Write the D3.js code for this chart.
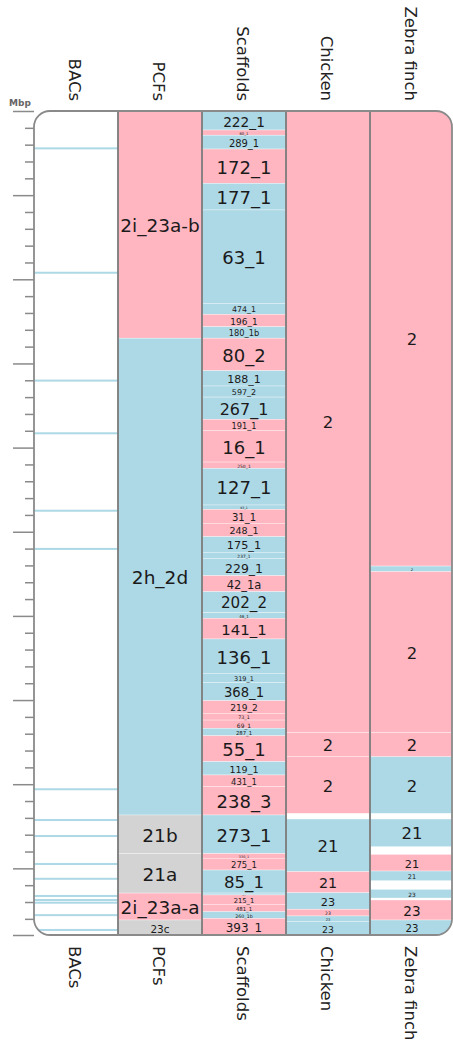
<!DOCTYPE html>
<html>
<head>
<meta charset="utf-8">
<script src="https://cdn.jsdelivr.net/npm/d3@7/dist/d3.min.js"></script>
<style>
  body { margin: 0; background: #fff; }
  svg { display: block; font-family: "DejaVu Sans", sans-serif; }
</style>
</head>
<body>
<svg id="chart" width="453" height="1051"></svg>
<script>

// ******************* Data (Mbp) ********************************* //
var columns = ["BACs", "PCFs", "Scaffolds", "Chicken", "Zebra finch"];
var chromLength = 48.96;

// BAC positions along the chromosome
var bacs = [2.22, 9.61, 16.02, 19.15, 23.75, 26.02, 40.30, 42.13, 43.08,
            44.74, 45.62, 46.64, 46.88, 47.04, 47.78, 48.66];

// [name, start, end, colour]  p = pink, b = blue, g = grey
var pcfs = [
  ["2i_23a-b", 0, 13.5, "p"],
  ["2h_2d", 13.5, 41.83, "b"],
  ["21b", 41.83, 44.12, "g"],
  ["21a", 44.12, 46.47, "g"],
  ["2i_23a-a", 46.47, 48.07, "p"],
  ["23c", 48.07, 48.96, "g"]
];

var scaffolds = [
  ["222_1", 0, 1.13, "b"],
  ["60_1", 1.13, 1.44, "p"],
  ["289_1", 1.44, 2.26, "b"],
  ["172_1", 2.26, 4.30, "p"],
  ["177_1", 4.30, 5.88, "b"],
  ["63_1", 5.88, 11.43, "b"],
  ["474_1", 11.43, 12.08, "b"],
  ["196_1", 12.08, 12.82, "p"],
  ["180_1b", 12.82, 13.5, "b"],
  ["80_2", 13.5, 15.43, "p"],
  ["188_1", 15.43, 16.34, "b"],
  ["597_2", 16.34, 17.0, "b"],
  ["267_1", 17.0, 18.32, "b"],
  ["191_1", 18.32, 19.0, "p"],
  ["16_1", 19.0, 20.86, "p"],
  ["250_1", 20.86, 21.23, "p"],
  ["127_1", 21.23, 23.41, "b"],
  ["93_1", 23.41, 23.67, "b"],
  ["31_1", 23.67, 24.50, "p"],
  ["248_1", 24.50, 25.29, "p"],
  ["175_1", 25.29, 26.22, "b"],
  ["237_1", 26.22, 26.58, "b"],
  ["229_1", 26.58, 27.61, "b"],
  ["42_1a", 27.61, 28.56, "p"],
  ["202_2", 28.56, 29.81, "b"],
  ["46_1", 29.81, 30.14, "b"],
  ["141_1", 30.14, 31.37, "p"],
  ["136_1", 31.37, 33.41, "b"],
  ["319_1", 33.41, 33.95, "b"],
  ["368_1", 33.95, 35.04, "b"],
  ["219_2", 35.04, 35.79, "p"],
  ["73_1", 35.79, 36.19, "p"],
  ["69_1", 36.19, 36.68, "p"],
  ["287_1", 36.68, 37.12, "b"],
  ["55_1", 37.12, 38.66, "p"],
  ["119_1", 38.66, 39.45, "b"],
  ["431_1", 39.45, 40.15, "p"],
  ["238_3", 40.15, 41.83, "p"],
  ["273_1", 41.83, 44.12, "b"],
  ["330_1", 44.12, 44.40, "p"],
  ["275_1", 44.40, 45.10, "p"],
  ["85_1", 45.10, 46.47, "b"],
  ["57_1", 46.47, 46.58, "b"],
  ["215_1", 46.58, 47.14, "p"],
  ["481_1", 47.14, 47.58, "p"],
  ["260_1b", 47.58, 47.97, "b"],
  ["393_1", 47.97, 48.96, "p"]
];

var chicken = [
  ["2", 0, 36.94, "p"],
  ["2", 36.94, 38.37, "p"],
  ["2", 38.37, 41.73, "p"],
  ["21", 42.07, 45.20, "b"],
  ["21", 45.20, 46.45, "p"],
  ["23", 46.45, 47.43, "b"],
  ["23", 47.43, 47.83, "p"],
  ["23", 47.83, 48.15, "b"],
  ["23", 48.15, 48.96, "b"]
];

var zebraFinch = [
  ["2", 0, 27.04, "p"],
  ["2", 27.04, 27.37, "b"],
  ["2", 27.37, 36.94, "p"],
  ["2", 36.94, 38.37, "p"],
  ["2", 38.37, 41.73, "b"],
  ["21", 42.07, 43.71, "b"],
  ["21", 44.17, 45.16, "p"],
  ["21", 45.16, 45.73, "b"],
  ["23", 46.25, 46.76, "b"],
  ["23", 46.88, 48.07, "p"],
  ["23", 48.07, 48.96, "b"]
];


// ******************* Set Up ********************************* //
var colours = { p: "#ffb6c1", b: "#add8e6", g: "#d3d3d3" };

var frameTop = 111;
var frameBottom = 935;
var frameLeft = 34;
var frameRight = 452;

var svg = d3.select("#chart");

var x = d3.scaleBand()
          .domain(columns)
          .range([frameLeft, 454]);

var y = d3.scaleLinear()
          .domain([0, chromLength])
          .range([frameTop, frameBottom]);

svg.append("clipPath")
    .attr("id", "frame-clip")
  .append("rect")
    .attr("x", frameLeft)
    .attr("y", frameTop)
    .attr("width", frameRight - frameLeft)
    .attr("height", frameBottom - frameTop)
    .attr("rx", 16);

var body = svg.append("g")
    .attr("clip-path", "url(#frame-clip)");

body.append("rect")
    .attr("x", frameLeft)
    .attr("y", frameTop)
    .attr("width", frameRight - frameLeft)
    .attr("height", frameBottom - frameTop)
    .attr("fill", "#fff");

// BAC lines
body.selectAll(".bac")
  .data(bacs)
  .enter()
  .append("rect")
    .classed("bac", true)
    .attr("x", x("BACs"))
    .attr("y", d => y(d) - 1)
    .attr("width", x.bandwidth())
    .attr("height", 2)
    .attr("fill", colours.b);

function drawTrack(name, rows, cap, factor) {
  var g = body.append("g").classed("track", true);

  g.selectAll("rect")
    .data(rows)
    .enter()
    .append("rect")
      .attr("x", x(name))
      .attr("y", d => y(d[1]))
      .attr("width", x.bandwidth())
      .attr("height", d => y(d[2]) - y(d[1]))
      .attr("fill", d => colours[d[3]])
      .attr("stroke", "#fff")
      .attr("stroke-opacity", 0.55)
      .attr("stroke-width", 0.6);

  g.selectAll("text")
    .data(rows)
    .enter()
    .append("text")
      .attr("x", x(name) + x.bandwidth() / 2)
      .attr("y", d => (y(d[1]) + y(d[2])) / 2 + 1)
      .attr("text-anchor", "middle")
      .attr("dominant-baseline", "central")
      .attr("font-size", d => Math.min(cap, (y(d[2]) - y(d[1])) * factor))
      .attr("fill", "#1a1a1a")
      .text(d => d[0]);
}

drawTrack("PCFs", pcfs, 18.5, 0.7);
drawTrack("Scaffolds", scaffolds, 18, 0.72);
drawTrack("Chicken", chicken, 16.5, 0.68);
drawTrack("Zebra finch", zebraFinch, 16.5, 0.68);

// column separators
svg.selectAll(".sep")
  .data(columns.slice(1))
  .enter()
  .append("line")
    .classed("sep", true)
    .attr("x1", d => x(d))
    .attr("x2", d => x(d))
    .attr("y1", frameTop)
    .attr("y2", frameBottom)
    .attr("stroke", "#7a7a7a")
    .attr("stroke-width", 1.8);

// frame
svg.append("rect")
    .attr("x", frameLeft)
    .attr("y", frameTop)
    .attr("width", frameRight - frameLeft)
    .attr("height", frameBottom - frameTop)
    .attr("rx", 16)
    .attr("fill", "none")
    .attr("stroke", "#8a8a8a")
    .attr("stroke-width", 1.8);

// ******************* Axis ********************************* //
var minorTicks = d3.range(1, 49).filter(d => d % 5 !== 0);
var majorTicks = d3.range(0, 46, 5).concat([chromLength]);

svg.append("g")
    .classed("minor-axis", true)
    .attr("transform", "translate(" + frameLeft + ",0)")
    .call(d3.axisLeft(y)
            .tickValues(minorTicks)
            .tickSize(9)
            .tickFormat(() => ""))
    .call(g => g.select(".domain").remove());

svg.append("g")
    .classed("major-axis", true)
    .attr("transform", "translate(" + frameLeft + ",0)")
    .call(d3.axisLeft(y)
            .tickValues(majorTicks)
            .tickSize(21)
            .tickFormat(() => ""))
    .call(g => g.select(".domain").remove());

svg.selectAll(".minor-axis line, .major-axis line")
    .attr("stroke", "#8a8a8a")
    .attr("stroke-width", 1.5);

svg.append("text")
    .attr("x", 9)
    .attr("y", 106)
    .attr("font-size", 9)
    .attr("font-weight", "bold")
    .attr("fill", "#666")
    .text("Mbp");

// ******************* Column titles ********************************* //
svg.selectAll(".title-top")
  .data(columns)
  .enter()
  .append("text")
    .classed("title-top", true)
    .attr("transform", d => "translate(" + (x(d) + x.bandwidth() / 2 - 2) + ",101) rotate(90)")
    .attr("text-anchor", "end")
    .attr("dominant-baseline", "central")
    .attr("font-size", 16.5)
    .attr("fill", "#222")
    .text(d => d);

svg.selectAll(".title-bottom")
  .data(columns)
  .enter()
  .append("text")
    .classed("title-bottom", true)
    .attr("transform", d => "translate(" + (x(d) + x.bandwidth() / 2 - 2) + ",946) rotate(90)")
    .attr("text-anchor", "start")
    .attr("dominant-baseline", "central")
    .attr("font-size", 16.5)
    .attr("fill", "#222")
    .text(d => d);

</script>
</body>
</html>
